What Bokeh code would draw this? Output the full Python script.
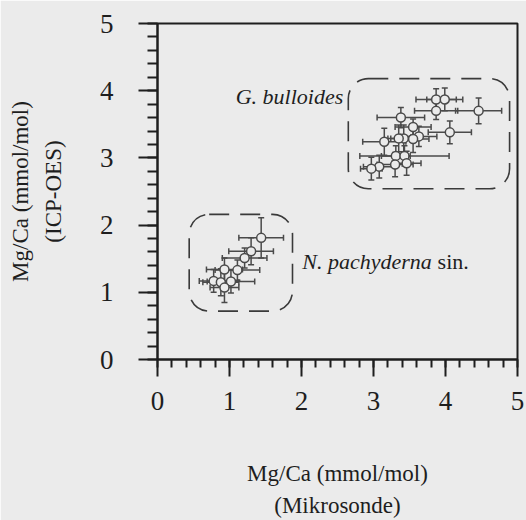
from bokeh.plotting import figure
from bokeh.models import (Range1d, SingleIntervalTicker, FixedTicker, LinearAxis, ColumnDataSource,
                          Whisker, BoxAnnotation, Label, TeeHead)
from bokeh.embed import file_html
from bokeh.resources import INLINE

# ---- data ----
gb_x    = [3.87, 3.99, 3.87, 4.46, 3.38, 3.55, 3.63, 3.55, 3.42, 3.35, 3.15, 4.06, 3.31, 3.43, 3.30, 3.46, 3.08, 2.97]
gb_y    = [3.87, 3.87, 3.70, 3.70, 3.60, 3.46, 3.32, 3.28, 3.29, 3.29, 3.24, 3.38, 3.03, 3.03, 2.90, 2.92, 2.87, 2.84]
gb_xerr = [0.28, 0.25, 0.30, 0.32, 0.33, 0.25, 0.25, 0.22, 0.18, 0.15, 0.30, 0.30, 0.20, 0.62, 0.25, 0.20, 0.22, 0.15]
gb_yerr = [0.16, 0.17, 0.13, 0.19, 0.15, 0.12, 0.15, 0.20, 0.20, 0.20, 0.20, 0.17, 0.15, 0.15, 0.18, 0.18, 0.17, 0.17]

np_x    = [1.44, 1.30, 1.21, 1.11, 0.93, 0.78, 0.88, 1.02, 0.93]
np_y    = [1.81, 1.61, 1.51, 1.33, 1.34, 1.17, 1.15, 1.16, 1.07]
np_xerr = [0.31, 0.31, 0.31, 0.31, 0.25, 0.20, 0.25, 0.33, 0.20]
np_yerr = [0.30, 0.20, 0.15, 0.15, 0.17, 0.17, 0.20, 0.17, 0.22]

# group outlines (data units): left, right, bottom, top
gb_box = [2.65, 4.89, 2.54, 4.18]
np_box = [0.44, 1.875, 0.72, 2.16]

x_ticks_labels = ["0", "1", "2", "3", "4", "5"]
x_title = ["Mg/Ca (mmol/mol)", "(Mikrosonde)"]
y_title = ["Mg/Ca (mmol/mol)", "(ICP-OES)"]

BG = "#ebebeb"
INK = "#1e1e1e"
MARK = "#4a4a4a"
FONT = "'Liberation Serif'"

p = figure(width=526, height=520, output_backend="svg", toolbar_location=None,
           x_range=Range1d(0, 5), y_range=Range1d(0, 5),
           min_border_left=157, min_border_right=9, min_border_top=23, min_border_bottom=160)
p.background_fill_color = BG
p.border_fill_color = BG
p.outline_line_color = INK
p.outline_line_width = 2
p.grid.visible = False


def style_title(ax, text, standoff):
    ax.axis_label = text
    ax.axis_label_text_font = FONT
    ax.axis_label_text_font_style = "normal"
    ax.axis_label_text_font_size = "23px"
    ax.axis_label_text_color = INK
    ax.axis_label_standoff = standoff


for ax in (p.xaxis[0], p.yaxis[0]):
    ax.ticker = SingleIntervalTicker(interval=1, num_minor_ticks=5)
    ax.axis_line_color = INK
    ax.axis_line_width = 2
    ax.major_tick_line_color = INK
    ax.major_tick_line_width = 2
    ax.minor_tick_line_color = INK
    ax.minor_tick_line_width = 2
    ax.major_tick_in = 0
    ax.minor_tick_in = 0
    ax.major_label_text_font = FONT
    ax.major_label_text_font_size = "27px"
    ax.major_label_text_color = INK

p.xaxis.major_tick_out = 17
p.xaxis.minor_tick_out = 8
p.yaxis.major_tick_out = 19
p.yaxis.minor_tick_out = 10
p.xaxis.major_label_standoff = 15
p.yaxis.major_label_standoff = 25
p.xaxis.major_label_overrides = {i: s for i, s in enumerate(x_ticks_labels)}

style_title(p.xaxis[0], x_title[0], 48)
style_title(p.yaxis[0], y_title[1], 31)

# second-line titles as extra, tick-less axes further out
for loc, text, standoff in (("below", x_title[1], 4), ("left", y_title[0], 5)):
    extra = LinearAxis(ticker=FixedTicker(ticks=[]), axis_line_color=None,
                       major_tick_out=0, major_tick_in=0, minor_tick_out=0, minor_tick_in=0,
                       major_label_text_font_size="0px", major_label_standoff=0)
    style_title(extra, text, standoff)
    p.add_layout(extra, loc)

for xs, ys, xe, ye in ((gb_x, gb_y, gb_xerr, gb_yerr), (np_x, np_y, np_xerr, np_yerr)):
    src = ColumnDataSource(dict(
        x=xs, y=ys,
        xl=[a - e for a, e in zip(xs, xe)], xu=[a + e for a, e in zip(xs, xe)],
        yl=[a - e for a, e in zip(ys, ye)], yu=[a + e for a, e in zip(ys, ye)],
    ))
    for dim, base, lo, up in (("width", "y", "xl", "xu"), ("height", "x", "yl", "yu")):
        w = Whisker(source=src, base=base, lower=lo, upper=up, dimension=dim,
                    line_color=MARK, line_width=1.5, level="underlay",
                    lower_head=TeeHead(size=6, line_color=MARK, line_width=1.5),
                    upper_head=TeeHead(size=6, line_color=MARK, line_width=1.5))
        p.add_layout(w)
    p.scatter("x", "y", source=src, marker="circle", size=9, fill_color=BG,
              line_color=MARK, line_width=1.5)

for b in (gb_box, np_box):
    p.add_layout(BoxAnnotation(left=b[0], right=b[1], bottom=b[2], top=b[3],
                               fill_alpha=0, line_color="#3a3a3a", line_alpha=1.0, line_width=1.6,
                               line_dash="20 11", border_radius=20, level="underlay"))

p.add_layout(Label(x=2.58, y=3.91, text="G. bulloides", text_font=FONT, text_font_style="italic",
                   text_font_size="22px", text_align="right", text_baseline="middle", text_color=INK))
p.add_layout(Label(x=2.01, y=1.46, text="N. pachyderna", text_font=FONT, text_font_style="italic",
                   text_font_size="22px", text_align="left", text_baseline="middle", text_color=INK))
p.add_layout(Label(x=3.89, y=1.46, text="sin.", text_font=FONT,
                   text_font_size="22px", text_align="left", text_baseline="middle", text_color=INK))

open("out.html", "w").write(file_html(p, INLINE))
